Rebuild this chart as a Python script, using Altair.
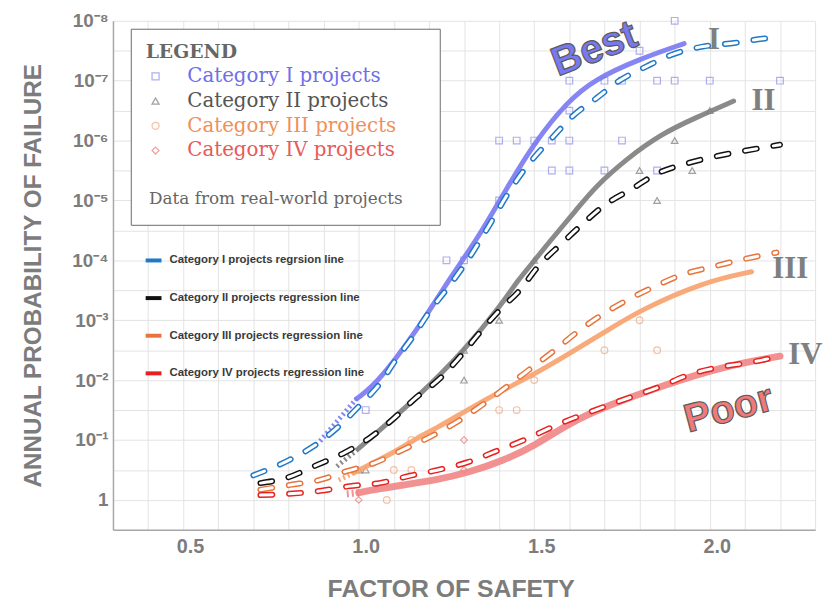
import altair as alt
import pandas as pd

# ---------------- categories / names ----------------
categories = ["Category I projects", "Category II projects",
              "Category III projects", "Category IV projects"]
reg_names = ["Category I projects regrsion line", "Category II projects regression line",
             "Category III projects regression line", "Category IV projects regression line"]

# ---------------- observed projects (factor of safety, log10 annual probability) ----------------
obs1_fs = [1.90, 1.80, 1.60, 1.70, 1.75, 1.85, 1.90, 2.00, 2.20, 1.60, 1.40, 1.45, 1.50, 1.55,
           1.60, 1.75, 1.55, 1.60, 1.70, 1.85, 1.40, 1.25, 1.30, 1.02]
obs1_lp = [-8, -7.5, -7, -7, -7, -7, -7, -7, -7, -6.5, -6, -6, -6, -6,
           -6, -6, -5.5, -5.5, -5.5, -5.5, -5, -4, -4, -1.5]
obs2_fs = [2.00, 1.90, 1.80, 1.95, 1.85, 1.50, 1.40, 1.30, 1.30, 1.00, 1.02]
obs2_lp = [-6.5, -6, -5.5, -5.5, -5, -4, -3, -2.5, -2, -0.5, -0.5]
obs3_fs = [1.80, 1.70, 1.85, 1.50, 1.40, 1.45, 1.15, 1.10, 1.15, 1.08]
obs3_lp = [-3, -2.5, -2.5, -2, -1.5, -1.5, -1, -0.5, -0.5, 0]
obs4_fs = [1.00, 1.30, 1.30]
obs4_lp = [0, -1, -0.5]

# ---------------- regression lines (dashed) ----------------
reg1_fs = [0.70, 0.80, 0.87, 0.94, 1.00, 1.06, 1.107, 1.155, 1.20, 1.26, 1.31, 1.36, 1.44, 1.49,
           1.55, 1.61, 1.68, 1.74, 1.82, 1.89, 1.98, 2.07, 2.15, 2.20]
reg1_lp = [-0.41, -0.66, -0.89, -1.21, -1.56, -1.94, -2.35, -2.73, -3.13, -3.59, -4.0, -4.47, -5.25, -5.65,
           -6.04, -6.41, -6.72, -6.99, -7.24, -7.43, -7.57, -7.63, -7.70, -7.73]
reg2_fs = [0.72, 0.79, 0.88, 0.96, 1.03, 1.10, 1.16, 1.23, 1.29, 1.34, 1.40, 1.46, 1.51, 1.58,
           1.64, 1.70, 1.78, 1.85, 1.93, 2.02, 2.10, 2.20]
reg2_lp = [-0.28, -0.36, -0.58, -0.79, -1.03, -1.36, -1.69, -2.02, -2.40, -2.76, -3.16, -3.51, -3.89, -4.29,
           -4.62, -4.92, -5.20, -5.45, -5.61, -5.74, -5.83, -5.93]
reg3_fs = [0.72, 0.805, 0.887, 0.966, 1.042, 1.127, 1.206, 1.282, 1.353, 1.424, 1.489, 1.554, 1.624,
           1.695, 1.766, 1.842, 1.921, 2.006, 2.09, 2.19]
reg3_lp = [-0.17, -0.25, -0.33, -0.48, -0.61, -0.84, -1.06, -1.31, -1.59, -1.90, -2.19, -2.48, -2.81,
           -3.10, -3.34, -3.56, -3.76, -3.89, -4.01, -4.13]
reg4_fs = [0.72, 0.797, 0.89, 0.975, 1.059, 1.144, 1.226, 1.311, 1.39, 1.475, 1.56, 1.706, 1.862,
           1.946, 2.031, 2.119, 2.20]
reg4_lp = [-0.08, -0.10, -0.15, -0.23, -0.28, -0.40, -0.50, -0.63, -0.81, -1.01, -1.24, -1.57, -1.90,
           -2.10, -2.22, -2.30, -2.40]

# ---------------- observed trend curves (solid) ----------------
act1_fs = [0.89, 0.994, 1.059, 1.20, 1.257, 1.342, 1.418, 1.503, 1.596, 1.672, 1.794, 1.927]
act1_lp = [-0.98, -1.69, -1.97, -3.13, -3.68, -4.39, -5.17, -5.99, -6.66, -7.02, -7.35, -7.62]
act2_fs = [0.938, 1.0, 1.164, 1.305, 1.41, 1.455, 1.503, 1.54, 1.624, 1.672, 1.766, 1.862, 1.955, 2.068]
act2_lp = [-0.56, -0.86, -1.69, -2.52, -3.29, -3.68, -4.01, -4.29, -4.87, -5.22, -5.71, -6.11, -6.37, -6.66]
act3_fs = [0.943, 0.985, 1.107, 1.164, 1.22, 1.314, 1.41, 1.494, 1.588, 1.70, 1.805, 1.983, 2.119]
act3_lp = [-0.33, -0.45, -0.81, -1.03, -1.19, -1.52, -1.83, -2.08, -2.40, -2.80, -3.18, -3.64, -3.81]
act4_fs = [0.966, 1.0, 1.031, 1.127, 1.22, 1.314, 1.41, 1.503, 1.596, 1.706, 1.862, 2.031, 2.20]
act4_lp = [-0.10, -0.12, -0.16, -0.25, -0.33, -0.46, -0.65, -0.91, -1.27, -1.57, -1.90, -2.22, -2.40]
act_dotted_count = [2, 2, 2, 2]

# ---------------- styles ----------------
point_colors = ["#6f6fe8", "#555555", "#f0905a", "#e85a5a"]
point_shapes = ["square", "triangle-up", "circle", "diamond"]
reg_colors = ["#1f78c8", "#111111", "#e8743b", "#e8201e"]
act_colors = ["#7878f2", "#7d7d7d", "#f8a16c", "#f08585"]
act_widths = [5, 5, 5, 7]

x_ticks = [round(0.3 + 0.1 * i, 1) for i in range(21)]
x_labelled = [0.5, 1.0, 1.5, 2.0]
y_exps = [-8, -7, -6, -5, -4, -3, -2, -1, 0]
y_labels = ["10⁻⁸", "10⁻⁷", "10⁻⁶", "10⁻⁵", "10⁻⁴", "10⁻³", "10⁻²", "10⁻¹", "1"]

numeral_text = ["I", "II", "III", "IV"]
numeral_fs = [2.012, 2.153, 2.229, 2.272]
numeral_lp = [-7.68, -6.66, -3.86, -2.42]
best_pos = (1.672, -7.52)
poor_pos = (2.054, -1.51)

# ---------------- tables ----------------
rows = []
for c, fs, lp in zip(categories, [obs1_fs, obs2_fs, obs3_fs, obs4_fs], [obs1_lp, obs2_lp, obs3_lp, obs4_lp]):
    for a, b in zip(fs, lp):
        rows.append({"fs": a, "p": 10 ** b, "cat": c})
pts = pd.DataFrame(rows)

rows = []
for r, fs, lp in zip(reg_names, [reg1_fs, reg2_fs, reg3_fs, reg4_fs], [reg1_lp, reg2_lp, reg3_lp, reg4_lp]):
    for i, (a, b) in enumerate(zip(fs, lp)):
        rows.append({"fs": a, "p": 10 ** b, "reg": r, "i": i})
reg = pd.DataFrame(rows)

dot_rows, solid_rows = [], []
for k, (fs, lp) in enumerate(zip([act1_fs, act2_fs, act3_fs, act4_fs], [act1_lp, act2_lp, act3_lp, act4_lp])):
    n = act_dotted_count[k]
    for i, (a, b) in enumerate(zip(fs, lp)):
        rec = {"fs": a, "p": 10 ** b, "cat": categories[k], "col": act_colors[k], "w": act_widths[k], "i": i}
        if i < n:
            dot_rows.append(rec)
        if i >= n - 1:
            solid_rows.append(rec)
act_dot = pd.DataFrame(dot_rows)
act_solid = pd.DataFrame(solid_rows)

num_df = pd.DataFrame({"fs": numeral_fs, "p": [10 ** v for v in numeral_lp], "t": numeral_text})
best_df = pd.DataFrame({"fs": [best_pos[0]], "p": [10 ** best_pos[1]], "t": ["Best"]})
poor_df = pd.DataFrame({"fs": [poor_pos[0]], "p": [10 ** poor_pos[1]], "t": ["Poor"]})

# ---------------- scales & axes ----------------
GRAY = "#7c7c7c"
x_label_expr = ("indexof(" + str(x_labelled) + ", round(datum.value*10)/10) >= 0 ? "
                "format(datum.value, '.1f') : ''")
e = "round(log(datum.value)/LN10*2)/2"
y_label_expr = "".join(f"{e} == {k} ? '{t}' : " for k, t in zip(y_exps, y_labels)) + "''"

x_axis = alt.Axis(values=x_ticks, labelExpr=x_label_expr, grid=True, gridColor="#e3e3e3",
                  gridWidth=1, ticks=False, domainColor="#a8a8a8", domainWidth=1.5,
                  labelFont="Liberation Sans", labelFontWeight="bold", labelFontSize=20,
                  labelColor=GRAY, labelPadding=7, labelOffset=7, labelFlush=False, labelOverlap=False,
                  title="FACTOR OF SAFETY", titleFont="Liberation Sans", titleFontWeight="bold",
                  titleFontSize=25, titleColor=GRAY, titlePadding=20, titleX=341)
y_axis = alt.Axis(values=[10 ** (k / 2) for k in range(-16, 2)], labelExpr=y_label_expr,
                  grid=True, gridColor="#e3e3e3", gridWidth=1, ticks=False,
                  domainColor="#a8a8a8", domainWidth=1.5, labelFont="Liberation Sans",
                  labelFontWeight="bold", labelFontSize=19, labelColor=GRAY, labelPadding=5,
                  labelFlush=False, labelOverlap=False, title="ANNUAL PROBABILITY OF FAILURE",
                  titleFont="Liberation Sans", titleFontWeight="bold", titleFontSize=24.5,
                  titleColor=GRAY, titlePadding=27)

X = alt.X("fs:Q", scale=alt.Scale(domain=[0.3, 2.3], nice=False, zero=False), axis=x_axis)
Y = alt.Y("p:Q", scale=alt.Scale(type="log", domain=[1e-8, 10 ** 0.5], reverse=True, nice=False),
          axis=y_axis)

# ---------------- legends ----------------
# two empty rows; one is an invisible spacer that sets the frame width
spacer = "_" * 24
legend_domain = categories + [spacer, "\u00a0"]
label_color_expr = ("".join(f"datum.value == '{c}' ? '{col}' : " for c, col in zip(categories, point_colors))
                    + "'rgba(0,0,0,0)'")
leg1 = alt.Legend(title="LEGEND", orient="none", legendX=18, legendY=8, padding=15,
                  fillColor="white", strokeColor="#6a6a6a",
                  titleFont="DejaVu Serif", titleFontSize=19, titleFontWeight="bold",
                  titleColor="#666666", titlePadding=4,
                  labelFont="DejaVu Serif", labelFontSize=20, labelColor={"expr": label_color_expr},
                  labelOffset=22, rowPadding=5, symbolSize=50, symbolStrokeWidth=1.3,
                  labelLimit=500)
leg2 = alt.Legend(title="\u200b\u00a0Data from real-world projects", orient="none", legendX=31, legendY=172,
                  padding=0, titleFont="DejaVu Serif", titleFontSize=17, titleFontWeight="normal",
                  titleColor="#666666", titlePadding=43, titleLimit=500, labelFont="Liberation Sans",
                  labelFontWeight="bold", labelFontSize=11.5, labelColor="#3a3a3a", labelOffset=6,
                  rowPadding=20, symbolType="stroke", symbolSize=256, symbolStrokeWidth=4,
                  labelLimit=500)

# ---------------- layers ----------------
points = alt.Chart(pts).mark_point(filled=False, size=45, strokeWidth=1.2, opacity=0.55).encode(
    x=X, y=Y,
    color=alt.Color("cat:N", scale=alt.Scale(domain=legend_domain,
                                              range=point_colors + ["rgba(0,0,0,0)", "rgba(0,0,0,0)"]),
                    legend=leg1),
    shape=alt.Shape("cat:N", scale=alt.Scale(domain=legend_domain,
                                              range=point_shapes + ["circle", "circle"]),
                    legend=leg1),
)

act_dotted = alt.Chart(act_dot).mark_line(interpolate="linear", strokeDash=[2, 3], opacity=0.9).encode(
    x=X, y=Y, detail="cat:N", order="i:Q",
    color=alt.Color("col:N", scale=None), strokeWidth=alt.StrokeWidth("w:Q", scale=None))
act_line = alt.Chart(act_solid).mark_line(interpolate="basis", opacity=0.9, strokeCap="round").encode(
    x=X, y=Y, detail="cat:N", order="i:Q",
    color=alt.Color("col:N", scale=None), strokeWidth=alt.StrokeWidth("w:Q", scale=None))

reg_outer = alt.Chart(reg).mark_line(interpolate="monotone", strokeWidth=6, strokeDash=[12, 17],
                                     strokeCap="round").encode(
    x=X, y=Y, order="i:Q",
    stroke=alt.Stroke("reg:N", scale=alt.Scale(domain=reg_names, range=reg_colors), legend=leg2))
reg_inner = alt.Chart(reg).mark_line(interpolate="monotone", strokeWidth=3, strokeDash=[12, 17],
                                     strokeCap="round", color="white").encode(
    x=X, y=Y, detail="reg:N", order="i:Q")

numerals = alt.Chart(num_df).mark_text(font="Liberation Serif", fontWeight="bold", fontSize=31,
                                       color="#7f7f7f").encode(x=X, y=Y, text="t:N")
best = alt.Chart(best_df).mark_text(font="Liberation Sans", fontWeight="bold", fontSize=41,
                                    color="#7878f0", stroke="#5a5a5a", strokeWidth=1.2,
                                    angle=339).encode(x=X, y=Y, text="t:N")
poor = alt.Chart(poor_df).mark_text(font="Liberation Sans", fontWeight="bold", fontSize=40,
                                    color="#f07a7a", stroke="#5a5a5a", strokeWidth=1.2,
                                    angle=345).encode(x=X, y=Y, text="t:N")

chart = alt.layer(points, act_dotted, act_line, reg_outer, reg_inner, numerals, best, poor).properties(
    width=709, height=514,
    padding={"left": 106, "top": 10, "right": 9, "bottom": 76},
    autosize=alt.AutoSizeParams(type="none"),
    background="white",
).configure_view(strokeWidth=0)

chart.save("out.html", embed_options={"renderer": "svg", "actions": False})
